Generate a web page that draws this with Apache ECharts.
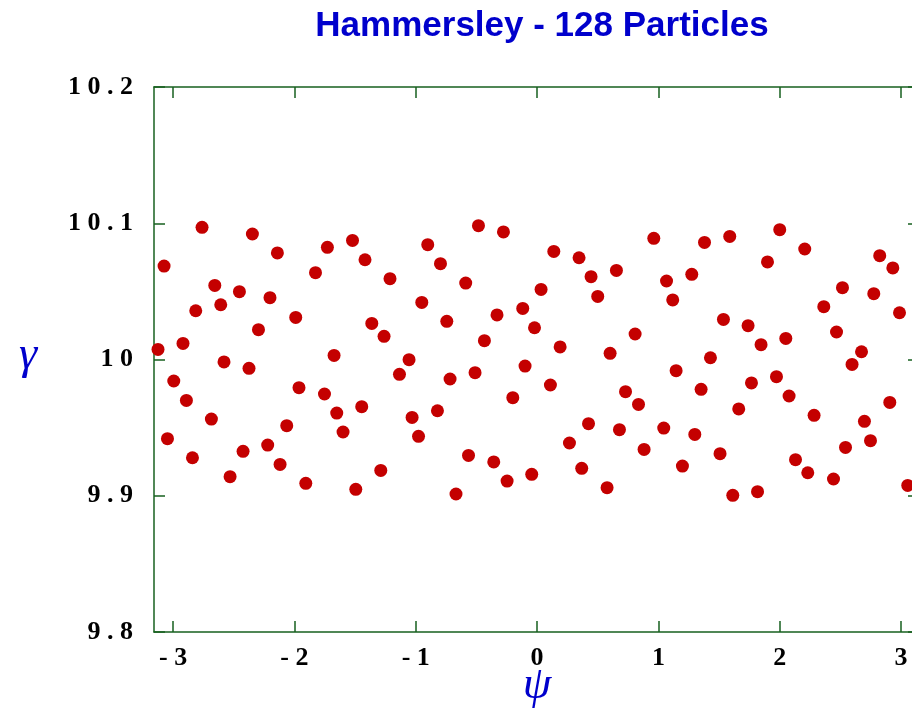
<!DOCTYPE html>
<html lang="en">
<head>
    <meta charset="UTF-8">
    <title>Hammersley - 128 Particles</title>
    <script src="https://cdn.jsdelivr.net/npm/echarts@6/dist/echarts.min.js"></script>
    <style>
        html, body { margin: 0; padding: 0; background: #fff; }
        #chart { width: 912px; height: 718px; }
    </style>
</head>
<body>
    <div id="chart"></div>
    <script>
        // particle positions
        let psi = [
            -3.124, -3.074, -3.046, -2.994, -2.918, -2.890, -2.840, -2.813, -2.761, -2.684,
            -2.656, -2.607, -2.580, -2.530, -2.453, -2.423, -2.374, -2.346, -2.296, -2.220,
            -2.201, -2.140, -2.118, -2.063, -1.989, -1.962, -1.906, -1.826, -1.752, -1.728,
            -1.673, -1.651, -1.599, -1.521, -1.494, -1.445, -1.418, -1.362, -1.288, -1.261,
            -1.212, -1.134, -1.055, -1.030, -0.977, -0.950, -0.901, -0.821, -0.796, -0.744,
            -0.717, -0.668, -0.588, -0.565, -0.511, -0.483, -0.434, -0.357, -0.330, -0.277,
            -0.247, -0.200, -0.118, -0.099, -0.044, -0.021, 0.033, 0.110, 0.138, 0.190,
            0.267, 0.346, 0.368, 0.424, 0.445, 0.500, 0.577, 0.602, 0.654, 0.679,
            0.729, 0.808, 0.836, 0.882, 0.962, 1.044, 1.067, 1.118, 1.146, 1.198,
            1.275, 1.300, 1.352, 1.380, 1.429, 1.508, 1.536, 1.588, 1.613, 1.662,
            1.739, 1.767, 1.817, 1.846, 1.899, 1.973, 2.000, 2.050, 2.077, 2.130,
            2.206, 2.231, 2.283, 2.363, 2.443, 2.468, 2.517, 2.542, 2.596, 2.674,
            2.698, 2.748, 2.775, 2.824, 2.907, 2.932, 2.987, 3.055
        ];
        let gamma = [
            10.0074, 10.0686, 9.9419, 9.9842, 10.0118, 9.9700, 9.9279, 10.0358, 10.0970, 9.9563,
            10.0544, 10.0402, 9.9982, 9.9140, 10.0498, 9.9326, 9.9935, 10.0921, 10.0219, 9.9372,
            10.0454, 10.0782, 9.9230, 9.9514, 10.0309, 9.9793, 9.9091, 10.0637, 9.9747, 10.0823,
            10.0030, 9.9607, 9.9468, 10.0874, 9.9047, 9.9654, 10.0732, 10.0265, 9.9186, 10.0170,
            10.0593, 9.9891, 9.9999, 9.9575, 9.9436, 10.0419, 10.0843, 9.9624, 10.0703, 10.0280,
            9.9857, 9.9013, 10.0561, 9.9296, 9.9903, 10.0982, 10.0138, 9.9248, 10.0327, 10.0936,
            9.9108, 9.9720, 10.0375, 9.9952, 9.9157, 10.0233, 10.0514, 9.9813, 10.0793, 10.0092,
            9.9387, 10.0747, 9.9201, 9.9529, 10.0608, 10.0463, 9.9059, 10.0045, 10.0654, 9.9485,
            9.9764, 10.0187, 9.9670, 9.9340, 10.0889, 9.9497, 10.0576, 10.0437, 9.9918, 9.9218,
            10.0625, 9.9450, 9.9781, 10.0859, 10.0013, 9.9309, 10.0294, 10.0903, 9.9003, 9.9637,
            10.0248, 9.9828, 9.9030, 10.0109, 10.0716, 9.9874, 10.0953, 10.0155, 9.9732, 9.9265,
            10.0811, 9.9169, 9.9590, 10.0388, 9.9123, 10.0202, 10.0527, 9.9355, 9.9964, 10.0057,
            9.9546, 9.9404, 10.0483, 10.0762, 9.9685, 10.0672, 10.0343, 9.9076
        ];
        let xTicks = [-3, -2, -1, 0, 1, 2, 3];
        let yTicks = [9.8, 9.9, 10, 10.1, 10.2];
        // the original frame runs a little past the right edge of the picture,
        // so the visible x range stops at about 3.09
        let xMin = -3.157, xMax = 3.090;
        let yMin = 9.8, yMax = 10.2;

        let axisGreen = '#17601f';
        let dotRed = '#c40000';
        let titleBlue = '#0000cc';

        // "10.2" -> "1 0 . 2", the way the original spaces its labels
        function spaced(v) {
            return String(v).split('').join(' ');
        }

        let points = psi.map(function(x, i) { return [x, gamma[i]]; });

        let labelFont = {
            color: '#000',
            fontFamily: 'Liberation Serif',
            fontWeight: 'bold',
            fontSize: 26
        };

        function xAxisDef(pos, showLabels) {
            return {
                type: 'value',
                position: pos,
                min: xMin,
                max: xMax,
                axisLine: { show: true, onZero: false, lineStyle: { color: axisGreen, width: 1.5 } },
                axisTick: { show: true, inside: true, length: 11, customValues: xTicks,
                            lineStyle: { color: axisGreen, width: 1.5 } },
                axisLabel: Object.assign({ show: showLabels, customValues: xTicks, margin: 13,
                                           formatter: spaced }, labelFont),
                splitLine: { show: false }
            };
        }

        function yAxisDef(pos, showLabels, showLine, tickLen) {
            return {
                type: 'value',
                position: pos,
                min: yMin,
                max: yMax,
                axisLine: { show: showLine, onZero: false, lineStyle: { color: axisGreen, width: 1.5 } },
                axisTick: { show: true, inside: true, length: tickLen, customValues: yTicks,
                            lineStyle: { color: axisGreen, width: 1.5 } },
                axisLabel: Object.assign({ show: showLabels, customValues: yTicks, margin: 21,
                                           formatter: spaced }, labelFont),
                splitLine: { show: false }
            };
        }

        let myChart = echarts.init(document.getElementById('chart'));

        let option = {
            backgroundColor: '#fff',
            animation: false,
            title: {
                text: 'Hammersley - 128 Particles',
                left: 537,
                top: 4,
                textAlign: 'center',
                textStyle: {
                    color: titleBlue,
                    fontFamily: 'Liberation Sans Narrow, Liberation Sans, Arial',
                    fontWeight: 'bold',
                    fontSize: 35
                }
            },
            grid: { left: 154, top: 87, right: 0, height: 545 },
            xAxis: [xAxisDef('bottom', true), xAxisDef('top', false)],
            yAxis: [yAxisDef('left', true, true, 11), yAxisDef('right', false, false, 4)],
            graphic: [
                {
                    type: 'text',
                    x: 28,
                    y: 356,
                    style: {
                        text: 'γ', fill: titleBlue, font: 'italic 46px "Liberation Serif"',
                        textAlign: 'center', textVerticalAlign: 'middle'
                    }
                },
                {
                    type: 'text',
                    x: 537,
                    y: 686,
                    style: {
                        text: 'ψ', fill: titleBlue, font: 'italic 46px "Liberation Serif"',
                        textAlign: 'center', textVerticalAlign: 'middle'
                    }
                }
            ],
            series: [{
                type: 'scatter',
                data: points,
                symbol: 'circle',
                symbolSize: 13,
                itemStyle: { color: dotRed, opacity: 1 },
                clip: false
            }]
        };

        myChart.setOption(option);
    </script>
</body>
</html>
